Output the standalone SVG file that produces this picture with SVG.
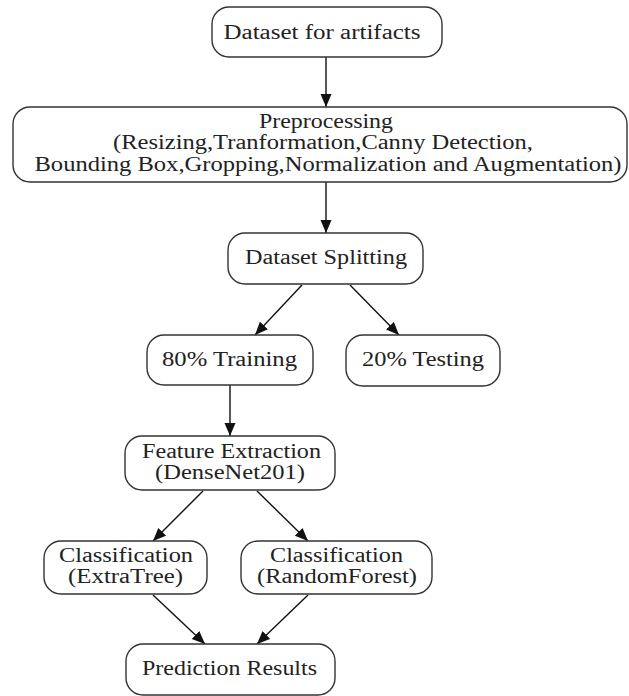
<svg xmlns="http://www.w3.org/2000/svg" width="629" height="696" viewBox="0 0 629 696">
<style>
.box{fill:#fff;stroke:#333;stroke-width:1.4}
.t{font-family:"Liberation Serif","Times New Roman",serif;font-size:20px;fill:#222;text-anchor:middle}
.e{stroke:#111;stroke-width:1.4;fill:none;marker-end:url(#ah)}
</style>
<defs>
<marker id="ah" markerUnits="userSpaceOnUse" markerWidth="14" markerHeight="12" refX="13" refY="5.5" orient="auto">
<path d="M0,0 L13,5.5 L0,11 z" fill="#111"/>
</marker>
</defs>
<rect width="629" height="696" fill="#fff"/>
<g id="connectors">
<line class="e" x1="326" y1="57" x2="326" y2="107"/>
<line class="e" x1="326" y1="182" x2="326" y2="233"/>
<line class="e" x1="302" y1="285" x2="255" y2="335"/>
<line class="e" x1="350" y1="285" x2="399" y2="335"/>
<line class="e" x1="230" y1="385" x2="230" y2="436"/>
<line class="e" x1="203" y1="491" x2="153" y2="541"/>
<line class="e" x1="257" y1="491" x2="308" y2="541"/>
<line class="e" x1="153" y1="595" x2="205" y2="644"/>
<line class="e" x1="308" y1="595" x2="257" y2="644"/>
</g>
<g id="n1">
<rect class="box" x="212" y="7" width="230" height="50" rx="17"/>
<text class="t" x="322" y="39" textLength="197" lengthAdjust="spacingAndGlyphs">Dataset for artifacts</text>
</g>
<g id="n2">
<rect class="box" x="13" y="107" width="614" height="75" rx="17"/>
<text class="t" x="326" y="128" textLength="134" lengthAdjust="spacingAndGlyphs">Preprocessing</text>
<text class="t" x="323" y="149" textLength="420" lengthAdjust="spacingAndGlyphs">(Resizing,Tranformation,Canny Detection,</text>
<text class="t" x="328" y="171" textLength="587" lengthAdjust="spacingAndGlyphs">Bounding Box,Gropping,Normalization and Augmentation)</text>
</g>
<g id="n3">
<rect class="box" x="228" y="233" width="195" height="51" rx="17"/>
<text class="t" x="326" y="264" textLength="162" lengthAdjust="spacingAndGlyphs">Dataset Splitting</text>
</g>
<g id="n4">
<rect class="box" x="147" y="335" width="166" height="50" rx="17"/>
<text class="t" x="229.5" y="366" textLength="135" lengthAdjust="spacingAndGlyphs">80% Training</text>
</g>
<g id="n5">
<rect class="box" x="346" y="335" width="154" height="51" rx="17"/>
<text class="t" x="423" y="366" textLength="122" lengthAdjust="spacingAndGlyphs">20% Testing</text>
</g>
<g id="n6">
<rect class="box" x="125" y="436" width="210" height="54" rx="17"/>
<text class="t" x="231.5" y="458" textLength="179" lengthAdjust="spacingAndGlyphs">Feature Extraction</text>
<text class="t" x="230" y="479" textLength="150" lengthAdjust="spacingAndGlyphs">(DenseNet201)</text>
</g>
<g id="n7">
<rect class="box" x="44" y="541" width="163" height="53" rx="17"/>
<text class="t" x="126" y="562" textLength="134" lengthAdjust="spacingAndGlyphs">Classification</text>
<text class="t" x="125.5" y="583" textLength="115" lengthAdjust="spacingAndGlyphs">(ExtraTree)</text>
</g>
<g id="n8">
<rect class="box" x="241" y="541" width="191" height="53" rx="17"/>
<text class="t" x="336.5" y="562" textLength="133" lengthAdjust="spacingAndGlyphs">Classification</text>
<text class="t" x="337" y="583" textLength="160" lengthAdjust="spacingAndGlyphs">(RandomForest)</text>
</g>
<g id="n9">
<rect class="box" x="126" y="644" width="209" height="51" rx="17"/>
<text class="t" x="229.5" y="675" textLength="175" lengthAdjust="spacingAndGlyphs">Prediction Results</text>
</g>
</svg>
